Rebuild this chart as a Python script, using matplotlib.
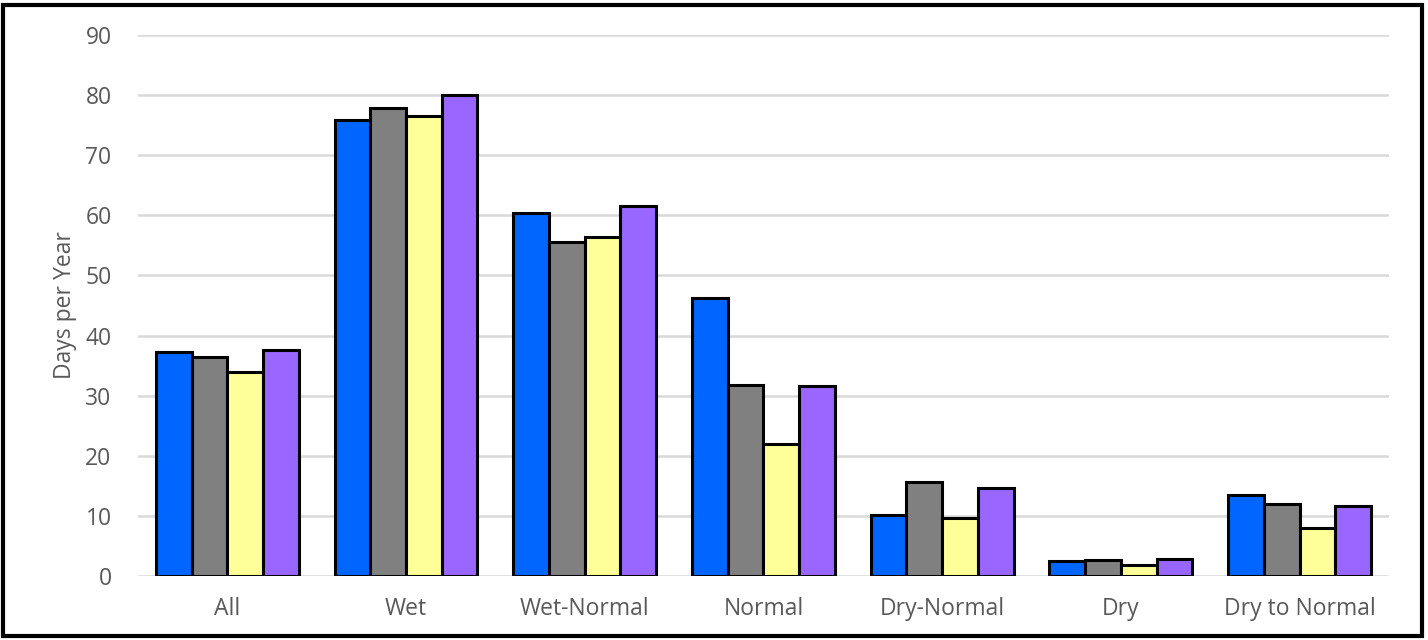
import numpy as np
import matplotlib
matplotlib.use("Agg")
import matplotlib.pyplot as plt
from matplotlib.patches import Rectangle

plt.rcParams['font.family'] = ['Open Sans', 'DejaVu Sans']

# Data
categories = ["All", "Wet", "Wet-Normal", "Normal", "Dry-Normal", "Dry", "Dry to Normal"]
series_blue = [37.2, 75.9, 60.4, 46.2, 10.1, 2.5, 13.5]
series_gray = [36.5, 77.9, 55.6, 31.8, 15.6, 2.7, 11.9]
series_yellow = [33.9, 76.6, 56.4, 22.0, 9.6, 1.9, 8.0]
series_purple = [37.6, 80.0, 61.6, 31.6, 14.7, 2.8, 11.6]

colors = ["#0066FF", "#808080", "#FFFF99", "#9966FF"]
all_series = [series_blue, series_gray, series_yellow, series_purple]

fig = plt.figure(figsize=(14.28, 6.4), dpi=100)
ax = fig.add_axes([0.0966, 0.1, 0.876, 0.8453])

x = np.arange(len(categories))
w = 0.2
for i, (vals, c) in enumerate(zip(all_series, colors)):
    ax.bar(x + (i - 1.5) * w, vals, width=w, color=c, edgecolor="black",
           linewidth=2.2, zorder=3)

ax.set_xlim(-0.5, len(categories) - 0.5)
ax.set_ylim(0, 90)
ax.set_yticks(range(0, 91, 10))
ax.set_xticks(x)
ax.set_xticklabels(categories)
ax.yaxis.grid(True, color="#D9D9D9", linewidth=1.8, zorder=0)
ax.tick_params(axis="both", length=0, labelsize=16.5, labelcolor="#595959")
ax.tick_params(axis="y", pad=19)
ax.tick_params(axis="x", pad=15)
for s in ax.spines.values():
    s.set_visible(False)
ax.set_ylabel("Days per Year", fontsize=16.5, color="#595959", labelpad=6)

# outer black frame
fig.patches.append(Rectangle((3 / 1428, 4 / 640), 1419 / 1428, 631 / 640,
                             transform=fig.transFigure, fill=False,
                             edgecolor="black", linewidth=3))

fig.savefig("out.png", dpi=100)
